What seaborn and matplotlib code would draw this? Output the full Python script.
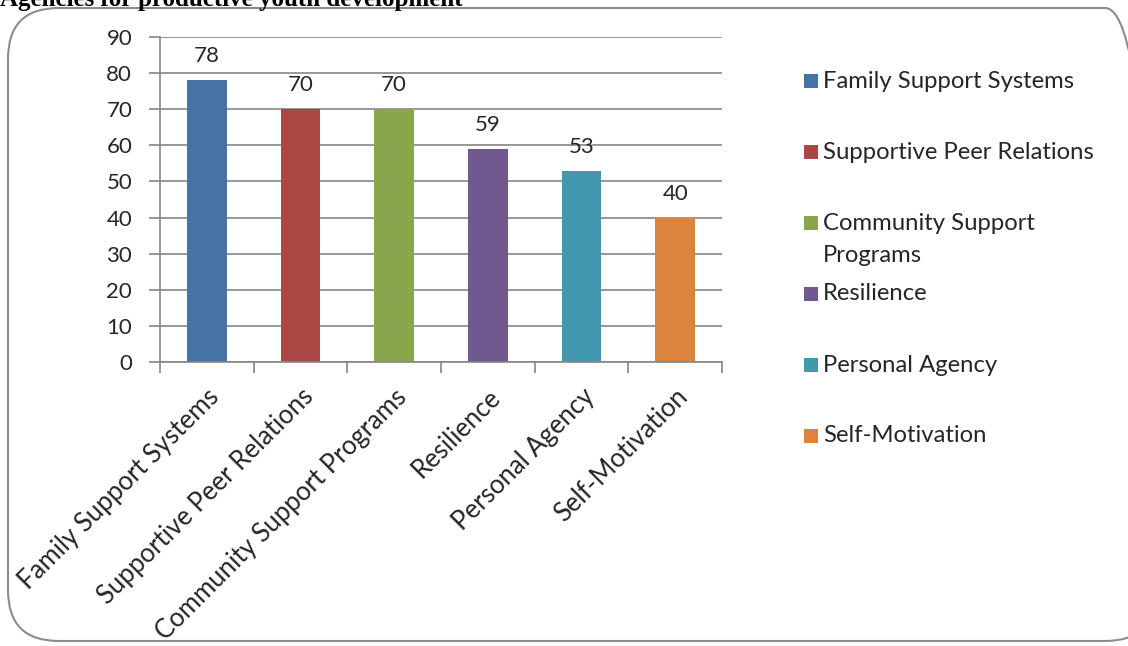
import matplotlib
matplotlib.use("Agg")
import matplotlib.pyplot as plt
from matplotlib.patches import FancyBboxPatch, Rectangle
import seaborn as sns
import pandas as pd

categories = ["Family Support Systems", "Supportive Peer Relations",
              "Community Support Programs", "Resilience",
              "Personal Agency", "Self-Motivation"]
values = [78, 70, 70, 59, 53, 40]
legend_labels = ["Family Support Systems", "Supportive Peer Relations",
                 "Community Support\nPrograms", "Resilience",
                 "Personal Agency", "Self-Motivation"]
colors = ["#4572A7", "#AA4643", "#89A54E", "#71588F", "#4198AF", "#DB843D"]
y_ticks = [0, 10, 20, 30, 40, 50, 60, 70, 80, 90]
title = "Agencies for productive youth development"

sns.set_theme(style="white")
plt.rcParams["font.family"] = ["Lato", "DejaVu Sans"]

W, H = 1128, 646
fig = plt.figure(figsize=(W / 100, H / 100), dpi=100)

# rounded frame around the chart area
frame = FancyBboxPatch((8 / W, 5 / H), (W + 20) / W, (H - 13) / H,
                       boxstyle="round,pad=0,rounding_size=0.045",
                       transform=fig.transFigure, fill=False,
                       edgecolor="#8c8c8c", linewidth=1.5,
                       mutation_aspect=W / H)
fig.patches.append(frame)

fig.text(0.0, 1 - 6 / H, title, family="Liberation Serif", fontweight="bold",
         fontsize=18, ha="left", va="baseline", color="black")

ax = fig.add_axes([160 / W, 1 - 362 / H, (722 - 160) / W, (362 - 37) / H])
df = pd.DataFrame({"cat": categories, "val": values})
sns.barplot(data=df, x="cat", y="val", hue="cat", palette=colors,
            width=0.42, legend=False, ax=ax, saturation=1, linewidth=0)

ax.set_xlim(-0.5, len(categories) - 0.5)
ax.set_ylim(0, 90)
ax.set_yticks(y_ticks)
ax.set_xlabel("")
ax.set_ylabel("")
ax.set_axisbelow(True)
ax.yaxis.grid(True, color="#868686", linewidth=1.2)
ax.xaxis.grid(False)
for s in ["top", "right"]:
    ax.spines[s].set_visible(False)
for s in ["left", "bottom"]:
    ax.spines[s].set_color("#868686")
    ax.spines[s].set_linewidth(1.2)

ax.tick_params(axis="y", which="major", direction="out", length=8,
               width=1.2, color="#868686", labelsize=16, pad=12,
               left=True)
ax.set_xticks(range(len(categories)))
ax.set_xticks([i - 0.5 for i in range(len(categories) + 1)], minor=True)
ax.tick_params(axis="x", which="major", length=0, pad=16)
ax.tick_params(axis="x", which="minor", direction="out", length=8,
               width=1.2, color="#868686", bottom=True)
ax.set_xticklabels(categories, rotation=45, ha="right",
                   rotation_mode="anchor", fontsize=18.5)

for c in ax.containers:
    ax.bar_label(c, fmt="%g", padding=10, fontsize=16)

# legend entries at a fixed vertical spacing
sq = 14
for i, (lab, col) in enumerate(zip(legend_labels, colors)):
    yc = 81 + 71 * i
    fig.patches.append(Rectangle((804 / W, 1 - (yc + sq / 2) / H), sq / W, sq / H,
                                 transform=fig.transFigure, facecolor=col,
                                 edgecolor="none"))
    first, *rest = lab.split("\n")
    fig.text(823 / W, 1 - yc / H, first, fontsize=17.2, va="center", ha="left")
    if rest:
        fig.text(823 / W, 1 - (yc + 32) / H, rest[0], fontsize=17.2,
                 va="center", ha="left")

fig.savefig("out.png", dpi=100)
